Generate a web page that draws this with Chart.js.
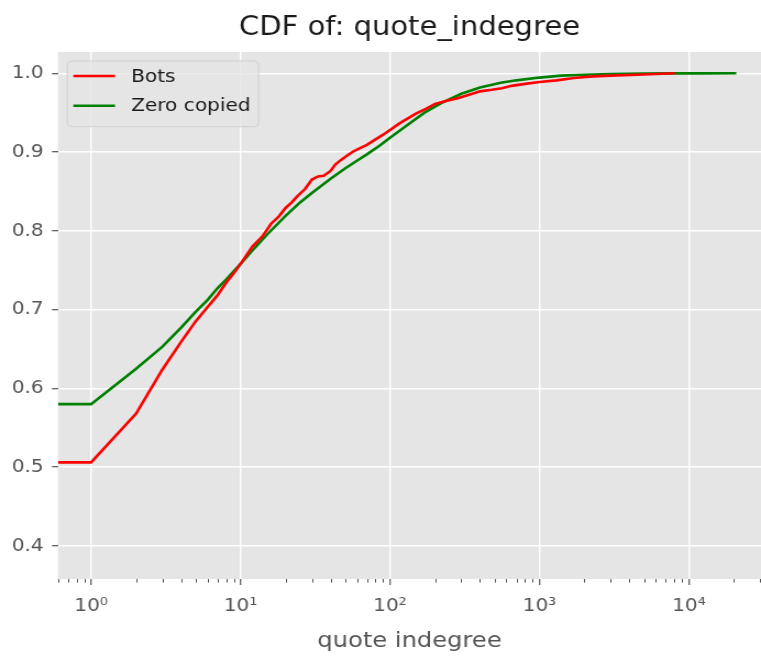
<!DOCTYPE html>
<html>
<head>
<meta charset="utf-8">
<script src="https://cdn.jsdelivr.net/npm/chart.js@4/dist/chart.umd.min.js"></script>
<style>
  html, body { margin: 0; padding: 0; background: #ffffff; overflow: hidden; }
  #wrap { width: 692px; height: 656px; transform: scaleX(1.09971); transform-origin: 0 0; }
</style>
</head>
<body>
<div id="wrap"><canvas id="c" width="692" height="656"></canvas></div>
<script>
// ---- data ----
const TITLE = 'CDF of: quote_indegree';
const X_LABEL = 'quote indegree';
const SERIES_NAMES = ['Bots', 'Zero copied'];

const botsX = [0, 1, 2, 3, 4, 5, 6, 7, 8, 9, 10, 12, 14, 16, 18, 20, 22, 24, 27, 30, 33, 36, 40, 43, 47, 52, 57, 63, 70, 80, 90, 100, 115, 130, 150, 175, 200, 240, 280, 330, 400, 480, 560, 650, 800, 1000, 1300, 1700, 2300, 3000, 4500, 6000, 8040];
const botsY = [0.506, 0.506, 0.568, 0.624, 0.659, 0.685, 0.703, 0.718, 0.734, 0.746, 0.758, 0.780, 0.793, 0.809, 0.818, 0.829, 0.836, 0.844, 0.853, 0.865, 0.869, 0.870, 0.876, 0.884, 0.890, 0.896, 0.901, 0.905, 0.909, 0.916, 0.922, 0.928, 0.936, 0.942, 0.949, 0.955, 0.961, 0.965, 0.968, 0.972, 0.977, 0.979, 0.981, 0.984, 0.9865, 0.989, 0.991, 0.994, 0.996, 0.997, 0.998, 0.999, 1.0];

const zeroX = [0, 1, 2, 3, 4, 5, 6, 7, 8, 10, 12, 15, 20, 25, 30, 40, 50, 60, 70, 85, 100, 130, 170, 220, 300, 400, 550, 700, 1000, 1400, 2000, 3000, 5000, 8000, 12000, 20750];
const zeroY = [0.580, 0.580, 0.625, 0.653, 0.677, 0.697, 0.712, 0.727, 0.738, 0.758, 0.775, 0.795, 0.819, 0.836, 0.848, 0.866, 0.879, 0.889, 0.897, 0.908, 0.918, 0.934, 0.950, 0.962, 0.974, 0.982, 0.988, 0.991, 0.9945, 0.997, 0.998, 0.999, 0.9995, 0.9998, 0.9999, 1.0];

const X_TICKS = [1, 10, 100, 1000, 10000];
const X_TICK_LABELS = ['10\u2070', '10\u00b9', '10\u00b2', '10\u00b3', '10\u2074'];
const Y_TICKS = [0.4, 0.5, 0.6, 0.7, 0.8, 0.9, 1.0];
const X_RANGE = [0.6112, 30360];
const Y_RANGE = [0.358, 1.027];

// ---- styling ----
const FONT = 'DejaVu Sans';
const COLORS = ['#ff0000', '#008000'];

const toPoints = (xs, ys) => xs.map((x, i) => ({ x: x, y: ys[i] }));

const bgPlugin = {
  id: 'plotBg',
  beforeDraw(chart) {
    const { ctx, chartArea: a } = chart;
    ctx.save();
    ctx.fillStyle = '#e5e5e5';
    ctx.fillRect(a.left, a.top, a.right - a.left, a.bottom - a.top);
    ctx.restore();
  }
};

const minorTickPlugin = {
  id: 'minorTicks',
  afterDraw(chart) {
    const { ctx, chartArea: a, scales } = chart;
    const xs = scales.x;
    ctx.save();
    ctx.strokeStyle = '#555555';
    ctx.lineWidth = 1;
    ctx.beginPath();
    for (let d = -1; d <= 4; d++) {
      for (let m = 2; m <= 9; m++) {
        const v = m * Math.pow(10, d);
        if (v < xs.min || v > xs.max) continue;
        const px = Math.round(xs.getPixelForValue(v)) + 0.5;
        ctx.moveTo(px, a.bottom);
        ctx.lineTo(px, a.bottom + 3.6);
      }
    }
    ctx.stroke();
    ctx.restore();
  }
};

const legendPlugin = {
  id: 'insideLegend',
  afterDatasetsDraw(chart) {
    const { ctx } = chart;
    const x0 = 61.2, y0 = 61, w = 174, h = 65.7, r = 4;
    ctx.save();
    ctx.beginPath();
    ctx.roundRect(x0, y0, w, h, r);
    ctx.fillStyle = 'rgba(229,229,229,0.8)';
    ctx.fill();
    ctx.strokeStyle = 'rgba(204,204,204,0.8)';
    ctx.lineWidth = 1;
    ctx.stroke();
    const rows = [76, 105.7];
    chart.data.datasets.forEach((ds, i) => {
      const y = rows[i];
      ctx.beginPath();
      ctx.strokeStyle = ds.borderColor;
      ctx.lineWidth = 2.6;
      ctx.moveTo(66.7, y);
      ctx.lineTo(104.6, y);
      ctx.stroke();
      ctx.fillStyle = '#1a1a1a';
      ctx.font = '18.3px "' + FONT + '"';
      ctx.textBaseline = 'middle';
      ctx.textAlign = 'left';
      ctx.fillText(ds.label, 119.2, y + 0.8);
    });
    ctx.restore();
  }
};

new Chart(document.getElementById('c'), {
  type: 'line',
  data: {
    datasets: [
      { label: SERIES_NAMES[0], data: toPoints(botsX, botsY), borderColor: COLORS[0], backgroundColor: COLORS[0], borderWidth: 2.6, pointRadius: 0, tension: 0, fill: false },
      { label: SERIES_NAMES[1], data: toPoints(zeroX, zeroY), borderColor: COLORS[1], backgroundColor: COLORS[1], borderWidth: 2.6, pointRadius: 0, tension: 0, fill: false }
    ]
  },
  options: {
    responsive: false,
    animation: false,
    devicePixelRatio: 1,
    layout: { padding: 0 },
    plugins: {
      legend: { display: false },
      tooltip: { enabled: false },
      title: {
        display: true,
        text: TITLE,
        fullSize: false,
        color: '#1a1a1a',
        font: { family: FONT, size: 26.4, weight: 'normal', lineHeight: 1.2 },
        padding: { top: 12.8, bottom: 7.5 }
      }
    },
    scales: {
      x: {
        type: 'logarithmic',
        min: X_RANGE[0],
        max: X_RANGE[1],
        border: { display: false },
        grid: { color: '#ffffff', lineWidth: 1.4, drawTicks: true, tickLength: 6, tickColor: '#555555', tickWidth: 1.2 },
        afterBuildTicks: s => { s.ticks = X_TICKS.map(v => ({ value: v, major: true })); },
        afterFit: s => { s.height = 77; },
        ticks: {
          autoSkip: false, maxRotation: 0, minRotation: 0,
          color: '#555555',
          font: { family: FONT, size: 18.3 },
          padding: 10,
          callback: (v, i) => X_TICK_LABELS[i]
        },
        title: {
          display: true,
          text: X_LABEL,
          color: '#555555',
          font: { family: FONT, size: 22 },
          padding: { top: 0, bottom: 1.4 }
        }
      },
      y: {
        type: 'linear',
        min: Y_RANGE[0],
        max: Y_RANGE[1],
        border: { display: false },
        grid: { color: '#ffffff', lineWidth: 1.4, drawTicks: true, tickLength: 5.5, tickColor: '#555555', tickWidth: 1.2 },
        afterBuildTicks: s => { s.ticks = Y_TICKS.map(v => ({ value: v })); },
        afterFit: s => { s.width = 52.7; },
        ticks: {
          color: '#555555',
          font: { family: FONT, size: 18.3 },
          padding: 7.5,
          callback: v => Number(v).toFixed(1)
        }
      }
    }
  },
  plugins: [bgPlugin, minorTickPlugin, legendPlugin]
});
</script>
</body>
</html>
